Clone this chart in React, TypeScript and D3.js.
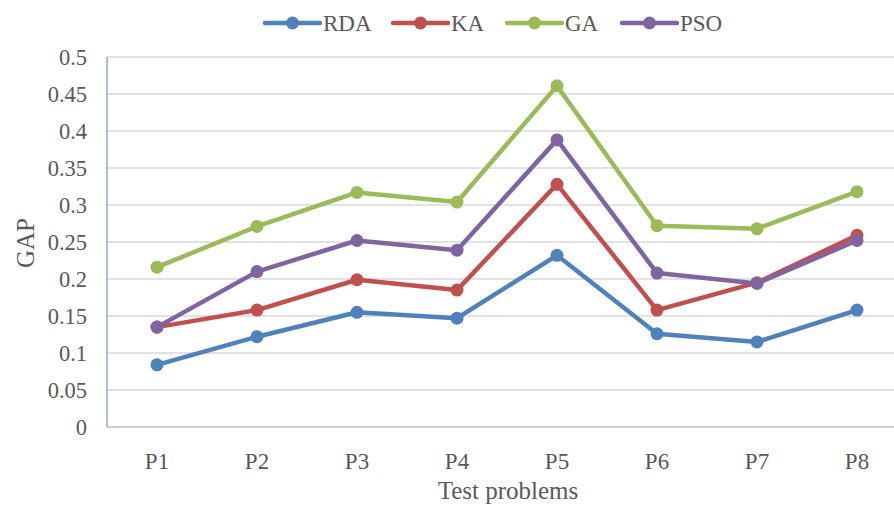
import React from "react";
import * as d3 from "d3";

const categories = ["P1", "P2", "P3", "P4", "P5", "P6", "P7", "P8"];
const seriesNames = ["RDA", "KA", "GA", "PSO"];
const seriesColors = ["#4F81BD", "#C0504D", "#9BBB59", "#8064A2"];
const rda = [0.084, 0.122, 0.155, 0.147, 0.232, 0.126, 0.115, 0.158];
const ka = [0.135, 0.158, 0.199, 0.185, 0.328, 0.158, 0.195, 0.259];
const ga = [0.216, 0.271, 0.317, 0.304, 0.461, 0.272, 0.268, 0.318];
const pso = [0.135, 0.210, 0.252, 0.239, 0.388, 0.208, 0.194, 0.252];
const yTicks = [0, 0.05, 0.1, 0.15, 0.2, 0.25, 0.3, 0.35, 0.4, 0.45, 0.5];
const yTickLabels = ["0", "0.05", "0.1", "0.15", "0.2", "0.25", "0.3", "0.35", "0.4", "0.45", "0.5"];

const W = 894;
const H = 505;
const left = 107;
const right = 907;
const top = 57;
const bottom = 427;
const font = "'Liberation Serif', 'Times New Roman', serif";
const textColor = "#595959";

export default function App() {
  const allSeries = [rda, ka, ga, pso];
  const x = d3.scaleBand<string>().domain(categories).range([left, right]);
  const cx = (c: string) => (x(c) as number) + x.bandwidth() / 2;
  const y = d3.scaleLinear().domain([0, 0.5]).range([bottom, top]);
  const line = d3
    .line<number>()
    .x((_, i) => cx(categories[i]))
    .y((d) => y(d));

  const legendX = [265, 393, 507, 622];

  return (
    <svg width={W} height={H} style={{ position: "absolute", left: 0, top: 0, background: "#fff" }}>
      <rect x={0} y={0} width={W} height={H} fill="#fff" />
      {yTicks.slice(1).map((t) => (
        <line key={t} x1={left} x2={right} y1={y(t)} y2={y(t)} stroke="#D9D9D9" strokeWidth={1.5} />
      ))}
      <line x1={left} x2={right} y1={bottom} y2={bottom} stroke="#BFBFBF" strokeWidth={1.5} />
      <line x1={left} x2={left} y1={top} y2={bottom} stroke="#4F81BD" strokeWidth={1} />
      {yTicks.map((t, i) => (
        <text key={t} x={87} y={y(t)} dy="0.35em" textAnchor="end" fontFamily={font} fontSize={22.5} fill={textColor}>
          {yTickLabels[i]}
        </text>
      ))}
      {categories.map((c) => (
        <text key={c} x={cx(c)} y={461} dy="0.35em" textAnchor="middle" fontFamily={font} fontSize={23} fill={textColor}>
          {c}
        </text>
      ))}
      <text x={508} y={490} dy="0.35em" textAnchor="middle" fontFamily={font} fontSize={25} fill={textColor}>
        Test problems
      </text>
      <text
        transform={`translate(25,${243}) rotate(-90)`}
        textAnchor="middle"
        dy="0.35em"
        fontFamily={font}
        fontSize={25}
        fill={textColor}
      >
        GAP
      </text>
      {allSeries.map((s, si) => (
        <g key={seriesNames[si]}>
          <path d={line(s) as string} fill="none" stroke={seriesColors[si]} strokeWidth={4.5} strokeLinejoin="round" />
          {s.map((v, i) => (
            <circle key={i} cx={cx(categories[i])} cy={y(v)} r={6.5} fill={seriesColors[si]} />
          ))}
        </g>
      ))}
      {seriesNames.map((n, i) => (
        <g key={n}>
          <line x1={legendX[i]} x2={legendX[i] + 55} y1={23} y2={23} stroke={seriesColors[i]} strokeWidth={4.5} strokeLinecap="round" />
          <circle cx={legendX[i] + 27.5} cy={23} r={6.5} fill={seriesColors[i]} />
          <text x={legendX[i] + 58} y={23} dy="0.35em" fontFamily={font} fontSize={23} fill={textColor}>
            {n}
          </text>
        </g>
      ))}
    </svg>
  );
}
